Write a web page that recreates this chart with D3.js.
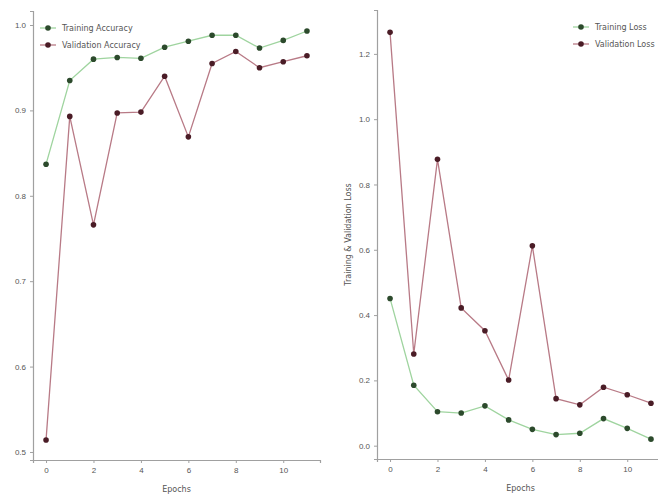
<!DOCTYPE html>
<html>
<head>
<meta charset="utf-8">
<script src="https://cdn.jsdelivr.net/npm/d3@7"></script>
<style>
  body { margin: 0; background: #fff; }
  svg { font-family: "DejaVu Sans", sans-serif; }
  .axis path, .axis line { stroke: #a0a0a0; }
  .axis text { fill: #555; font-size: 8px; }
</style>
</head>
<body>
<div class="graph"></div>
<script>
/*---------- DATA ----------*/
const epochs = [0, 1, 2, 3, 4, 5, 6, 7, 8, 9, 10, 11];
const trainAcc = [0.837, 0.935, 0.960, 0.962, 0.961, 0.974, 0.981, 0.988, 0.988, 0.973, 0.982, 0.993];
const valAcc = [0.514, 0.893, 0.766, 0.897, 0.898, 0.940, 0.869, 0.955, 0.969, 0.950, 0.957, 0.964];
const trainLoss = [0.451, 0.185, 0.104, 0.100, 0.122, 0.079, 0.050, 0.034, 0.038, 0.083, 0.053, 0.020];
const valLoss = [1.266, 0.281, 0.877, 0.422, 0.352, 0.201, 0.612, 0.144, 0.125, 0.179, 0.156, 0.130];
const xTicks = [0, 2, 4, 6, 8, 10];
const accTicks = [0.5, 0.6, 0.7, 0.8, 0.9, 1.0];
const lossTicks = [0.0, 0.2, 0.4, 0.6, 0.8, 1.0, 1.2];

const COLORS = {
    trainLine: "#9fd49f", trainDot: "#2c4a2c",
    valLine: "#b87a86", valDot: "#4a1c26"
};

//define dimensions
const SIZE = {X: 658, Y: 495};

const svg = d3.select(".graph").append("svg")
    .attr("width", SIZE.X)
    .attr("height", SIZE.Y);

//one panel = axes + two series + legend
function panel(opts) {
    const g = svg.append("g")
        .attr("transform", `translate(${opts.left}, ${opts.top})`);

    const x = d3.scaleLinear()
        .domain([-0.55, 11.55])
        .range([0, opts.width]);

    const y = d3.scaleLinear()
        .domain(opts.yDomain)
        .range([opts.height, 0]);

    g.append("g")
        .attr("class", "x axis")
        .attr("transform", `translate(0, ${opts.height})`)
        .call(d3.axisBottom(x).tickValues(xTicks).tickFormat(d3.format("d")).tickSize(3).tickPadding(4));

    g.append("g")
        .attr("class", "y axis")
        .call(d3.axisLeft(y).tickValues(opts.yTicks).tickFormat(d3.format(".1f")).tickSize(3).tickPadding(4));

    g.selectAll(".axis .domain").attr("stroke-width", 1.2);

    //x label
    g.append("text")
        .attr("x", opts.width / 2)
        .attr("y", opts.height + 32)
        .attr("text-anchor", "middle")
        .attr("font-size", 8)
        .attr("fill", "#555")
        .text("Epochs");

    if (opts.yLabel) {
        g.append("text")
            .attr("transform", `translate(-26, ${opts.height / 2}) rotate(-90)`)
            .attr("text-anchor", "middle")
            .attr("font-size", 8)
            .attr("fill", "#555")
            .text(opts.yLabel);
    }

    const line = d3.line()
        .x((d, i) => x(epochs[i]))
        .y(d => y(d));

    opts.series.forEach(s => {
        g.append("path")
            .attr("fill", "none")
            .attr("stroke", s.line)
            .attr("stroke-width", 1.3)
            .attr("d", line(s.values));

        g.selectAll(null)
            .data(s.values)
            .enter().append("circle")
            .attr("cx", (d, i) => x(epochs[i]))
            .attr("cy", d => y(d))
            .attr("r", 2.8)
            .attr("fill", s.dot);
    });

    //legend
    const lg = g.append("g")
        .attr("transform", `translate(${opts.legendX}, ${opts.legendY})`);

    opts.series.forEach((s, i) => {
        const row = lg.append("g").attr("transform", `translate(0, ${i * 17})`);
        row.append("line")
            .attr("x1", 0).attr("x2", 16)
            .attr("stroke", s.line).attr("stroke-width", 1.3);
        row.append("circle")
            .attr("cx", 8).attr("r", 2.8).attr("fill", s.dot);
        row.append("text")
            .attr("x", 22).attr("dy", "0.32em")
            .attr("font-size", 8)
            .attr("fill", "#555")
            .text(s.name);
    });
}

panel({
    left: 33, top: 11, width: 287, height: 449,
    yDomain: [0.4906, 1.0164],
    yTicks: accTicks,
    legendX: 7, legendY: 17,
    series: [
        {name: "Training Accuracy", values: trainAcc, line: COLORS.trainLine, dot: COLORS.trainDot},
        {name: "Validation Accuracy", values: valAcc, line: COLORS.valLine, dot: COLORS.valDot}
    ]
});

panel({
    left: 377, top: 10, width: 287, height: 449,
    yDomain: [-0.0408, 1.3344],
    yTicks: lossTicks,
    yLabel: "Training & Validation Loss",
    legendX: 196, legendY: 17,
    series: [
        {name: "Training Loss", values: trainLoss, line: COLORS.trainLine, dot: COLORS.trainDot},
        {name: "Validation Loss", values: valLoss, line: COLORS.valLine, dot: COLORS.valDot}
    ]
});
</script>
</body>
</html>
